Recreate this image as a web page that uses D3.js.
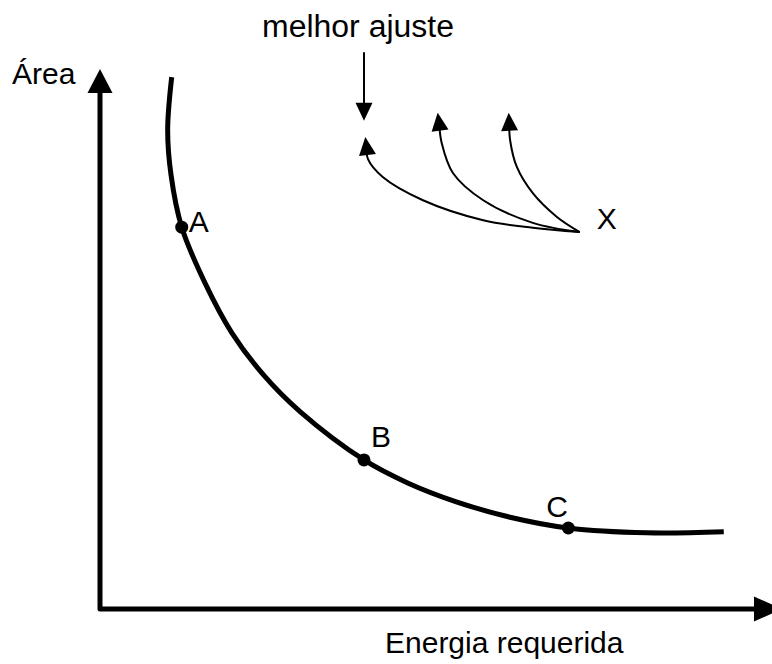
<!DOCTYPE html>
<html><head><meta charset="utf-8">
<script src="https://cdn.jsdelivr.net/npm/d3@7"></script>
<style>html,body{margin:0;padding:0;background:#fff;}svg{display:block;}text{font-family:Arial,"Liberation Sans",Helvetica,sans-serif;fill:#000;}</style>
</head><body>
<script>
// Main trade-off curve: energia requerida (x) vs área (y), arbitrary units
const curveEnergy = [10.7, 10.1, 10.6, 12.2, 15.7, 19.7, 24.5, 29.9, 39.4, 46.0, 53.3, 61.2, 69.9, 81.6, 93.1];
const curveArea   = [98.5, 88.7, 80.4, 70.7, 60.3, 51.1, 43.2, 36.5, 27.6, 23.3, 19.8, 17.0, 15.0, 14.1, 14.3];
// Labelled points on the curve
const pointLabels = ["A", "B", "C"];
const pointEnergy = [12.2, 39.4, 69.9];
const pointArea   = [70.7, 27.6, 15.0];
// Improvement arrows starting at point X
const xPoint = [71.6, 69.8];
const arrow1Energy = [71.6, 64.6, 57.2, 48.2, 42.2, 40.0, 39.6];
const arrow1Area   = [69.8, 70.6, 72.0, 75.7, 80.0, 83.3, 87.4];
const arrow2Energy = [71.6, 64.6, 57.2, 52.7, 51.0, 50.4];
const arrow2Area   = [69.8, 71.5, 75.7, 80.7, 86.3, 91.9];
const arrow3Energy = [71.6, 68.2, 64.6, 62.2, 61.2, 61.0];
const arrow3Area   = [69.8, 72.6, 77.0, 81.9, 86.9, 91.9];
// "melhor ajuste" pointer
const bestEnergy = [39.4, 39.4];
const bestArea   = [103.1, 90.4];

const W = 772, H = 664;
const svg = d3.select("body").append("svg").attr("width", W).attr("height", H);

const x = d3.scaleLinear().domain([0, 100]).range([100, 770]);
const y = d3.scaleLinear().domain([0, 100]).range([609, 69]);

// arrowhead helper: tip at end point, oriented along direction from prev point
function head(tx, ty, px, py, len, wid) {
  const dx = tx - px, dy = ty - py, d = Math.hypot(dx, dy);
  const ux = dx / d, uy = dy / d;
  const bx = tx - ux * len, by = ty - uy * len;
  const nx = -uy * wid / 2, ny = ux * wid / 2;
  return `M${tx},${ty}L${bx + nx},${by + ny}L${bx - nx},${by - ny}Z`;
}

// Axes
const axisHead = 24;
svg.append("path")
  .attr("d", `M${x(0)},${y(100) + axisHead}L${x(0)},${y(0)}L${x(100) + 12 - axisHead},${y(0)}`)
  .attr("fill", "none").attr("stroke", "#000").attr("stroke-width", 5).attr("stroke-linejoin", "round");
svg.append("path").attr("d", head(x(0), y(100), x(0), y(50), axisHead, 25)).attr("fill", "#000");
svg.append("path").attr("d", head(x(100) + 12, y(0), x(50), y(0), axisHead + 4, 25)).attr("fill", "#000");

// Main curve
const pts = curveEnergy.map((e, i) => [x(e), y(curveArea[i])]);
svg.append("path")
  .attr("d", d3.line().curve(d3.curveCatmullRom.alpha(0.5))(pts))
  .attr("fill", "none").attr("stroke", "#000").attr("stroke-width", 5);

// Points
svg.selectAll("circle.pt").data(pointLabels).join("circle")
  .attr("cx", (d, i) => x(pointEnergy[i])).attr("cy", (d, i) => y(pointArea[i]))
  .attr("r", 6.5).attr("fill", "#000");

const fs = 30;
const labelOffsets = [[7, 5], [7, -13], [-22, -11]];
svg.selectAll("text.pt").data(pointLabels).join("text")
  .attr("x", (d, i) => x(pointEnergy[i]) + labelOffsets[i][0])
  .attr("y", (d, i) => y(pointArea[i]) + labelOffsets[i][1])
  .attr("font-size", fs).text(d => d);

// Curved arrows from X
const arrowLine = d3.line().curve(d3.curveCatmullRom.alpha(0.5));
[[arrow1Energy, arrow1Area], [arrow2Energy, arrow2Area], [arrow3Energy, arrow3Area]].forEach(([ex, ay]) => {
  const p = ex.map((e, i) => [x(e), y(ay[i])]);
  const n = p.length;
  const tip = p[n - 1], prev = p[n - 2];
  const dx = tip[0] - prev[0], dy = tip[1] - prev[1], d = Math.hypot(dx, dy);
  const lp = p.slice(0, n - 1).concat([[tip[0] - dx / d * 12, tip[1] - dy / d * 12]]);
  svg.append("path").attr("d", arrowLine(lp)).attr("fill", "none").attr("stroke", "#000").attr("stroke-width", 2);
  svg.append("path").attr("d", head(tip[0], tip[1], prev[0], prev[1], 18, 17)).attr("fill", "#000");
});

// melhor ajuste pointer
svg.append("line")
  .attr("x1", x(bestEnergy[0])).attr("y1", y(bestArea[0]))
  .attr("x2", x(bestEnergy[1])).attr("y2", y(bestArea[1]) - 12)
  .attr("stroke", "#000").attr("stroke-width", 2);
svg.append("path").attr("d", head(x(bestEnergy[1]), y(bestArea[1]), x(bestEnergy[0]), y(bestArea[0]), 18, 17)).attr("fill", "#000");

// Texts
svg.append("text").attr("x", x(xPoint[0]) + 17).attr("y", y(xPoint[1]) - 3).attr("font-size", fs).text("X");
svg.append("text").attr("x", 262).attr("y", 37).attr("font-size", 31).attr("textLength", 192).attr("lengthAdjust", "spacingAndGlyphs").text("melhor ajuste");
svg.append("text").attr("x", 12).attr("y", 84).attr("font-size", fs).text("Área");
svg.append("text").attr("x", 385).attr("y", 653).attr("font-size", fs).text("Energia requerida");
</script>
</body></html>
